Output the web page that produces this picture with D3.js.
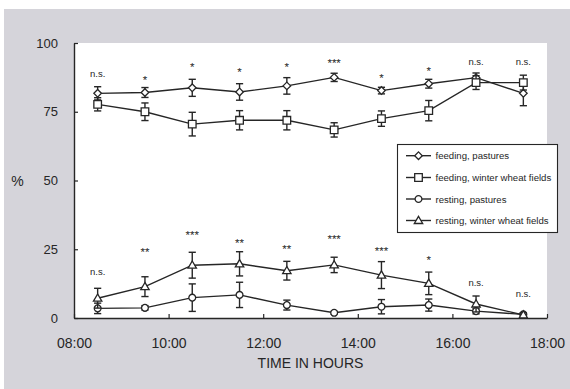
<!DOCTYPE html>
<html>
<head>
<meta charset="utf-8">
<script src="https://cdn.jsdelivr.net/npm/d3@7"></script>
<style>
  html, body { margin: 0; padding: 0; background: #ffffff; }
  svg { display: block; }
  text { font-family: "Liberation Sans", Arial, Helvetica, sans-serif; fill: #262626; }
</style>
</head>
<body>
<svg id="chart" width="570" height="389"></svg>
<script>
// Sampling times (hour of day, half-hour midpoints)
const times = [8.5, 9.5, 10.5, 11.5, 12.5, 13.5, 14.5, 15.5, 16.5, 17.5];

// Percentage of time spent per activity (mean and error)
const feedingPastures    = [81.7, 82.0, 83.7, 82.2, 84.4, 87.5, 82.7, 85.2, 87.4, 81.7];
const feedingPasturesErr = [2.4, 1.8, 3.1, 3.0, 3.0, 1.5, 1.2, 1.6, 1.7, 4.5];
const feedingWheat       = [77.7, 75.0, 70.5, 71.9, 71.9, 68.4, 72.5, 75.4, 85.6, 85.6];
const feedingWheatErr    = [2.4, 3.2, 4.3, 3.5, 3.5, 2.6, 2.8, 3.7, 2.5, 2.7];
const restingPastures    = [3.5, 3.7, 7.4, 8.4, 4.7, 1.9, 4.1, 4.7, 2.5, 1.3];
const restingPasturesErr = [1.9, 0.8, 5.0, 4.6, 1.8, 0.5, 2.6, 2.2, 1.0, 0.5];
const restingWheat       = [7.2, 11.4, 19.2, 19.7, 17.2, 19.3, 15.6, 12.6, 5.1, 1.1];
const restingWheatErr    = [3.6, 3.6, 4.7, 4.4, 3.4, 2.8, 4.9, 4.1, 2.9, 0.8];

// Significance of pasture vs. winter wheat differences, and the level (%) each label sits at
const sigFeeding   = ["n.s.", "*", "*", "*", "*", "***", "*", "*", "n.s.", "n.s."];
const sigFeedingAt = [88.4, 87.6, 92.4, 90.5, 92.4, 93.5, 88.4, 90.9, 92.7, 92.7];
const sigResting   = ["n.s.", "**", "***", "**", "**", "***", "***", "*", "n.s.", "n.s."];
const sigRestingAt = [16.4, 25.1, 31.2, 28.3, 25.9, 29.6, 25.3, 21.9, 12.6, 8.4];

// Axis ticks
const xTicks = [8, 10, 12, 14, 16, 18];
const xTickLabels = ["08:00", "10:00", "12:00", "14:00", "16:00", "18:00"];
const yTicks = [0, 25, 50, 75, 100];

const seriesNames = ["feeding, pastures", "feeding, winter wheat fields",
                     "resting, pastures", "resting, winter wheat fields"];
const seriesMarkers = ["diamond", "square", "circle", "triangle"];

const series = [
  { name: seriesNames[0], marker: seriesMarkers[0], values: feedingPastures, err: feedingPasturesErr },
  { name: seriesNames[1], marker: seriesMarkers[1], values: feedingWheat,    err: feedingWheatErr },
  { name: seriesNames[2], marker: seriesMarkers[2], values: restingPastures, err: restingPasturesErr },
  { name: seriesNames[3], marker: seriesMarkers[3], values: restingWheat,    err: restingWheatErr }
];

const ink = "#262626";
const svg = d3.select("#chart");

// page tone and white plotting field
svg.append("rect").attr("x", 4).attr("y", 9).attr("width", 566).attr("height", 380).attr("fill", "#d5d4da");

const x = d3.scaleLinear().domain([8, 18]).range([74, 547]);
const y = d3.scaleLinear().domain([0, 100]).range([318, 43]);

svg.append("rect")
  .attr("x", x(8)).attr("y", y(100))
  .attr("width", x(18) - x(8)).attr("height", y(0) - y(100))
  .attr("fill", "#ffffff");

// axes with inward ticks
const xAxis = d3.axisBottom(x).tickValues(xTicks)
  .tickFormat((d, i) => xTickLabels[i]).tickSizeInner(-4).tickSizeOuter(0).tickPadding(20);
const gx = svg.append("g").attr("transform", `translate(0,${y(0)})`).call(xAxis);
gx.select(".domain").attr("stroke", ink).attr("stroke-width", 1.4);
gx.selectAll(".tick line").attr("stroke", ink).attr("stroke-width", 1.2);
gx.selectAll(".tick text").attr("font-size", 14).attr("fill", ink)
  .attr("font-family", "Liberation Sans, Arial, sans-serif");

const yAxis = d3.axisLeft(y).tickValues(yTicks).tickSizeInner(-4).tickSizeOuter(0).tickPadding(16);
const gy = svg.append("g").attr("transform", `translate(${x(8)},0)`).call(yAxis);
gy.select(".domain").attr("stroke", ink).attr("stroke-width", 1.4);
gy.selectAll(".tick line").attr("stroke", ink).attr("stroke-width", 1.2);
gy.selectAll(".tick text").attr("font-size", 13).attr("fill", ink)
  .attr("font-family", "Liberation Sans, Arial, sans-serif");

// axis titles
svg.append("text").attr("x", 310.5).attr("y", 368).attr("text-anchor", "middle")
  .attr("font-size", 14).text("TIME IN HOURS");
svg.append("text").attr("x", 17.5).attr("y", y(50) + 5).attr("text-anchor", "middle")
  .attr("font-size", 14).text("%");

// marker shapes
function markerPath(kind) {
  switch (kind) {
    case "diamond":  return "M0,-3.8L3.8,0L0,3.8L-3.8,0Z";
    case "square":   return "M-3.8,-3.8H3.8V3.8H-3.8Z";
    case "circle":   return d3.symbol(d3.symbolCircle, Math.PI * 3.4 * 3.4)();
    case "triangle": return "M0,-4.2L4.2,3L-4.2,3Z";
  }
}

const line = d3.line().x(d => x(d.t)).y(d => y(d.v));
const capHalf = 3.6;

series.forEach(s => {
  const pts = times.map((t, i) => ({ t, v: s.values[i], e: s.err[i] }));
  const g = svg.append("g");

  g.append("path").datum(pts).attr("d", line)
    .attr("fill", "none").attr("stroke", ink).attr("stroke-width", 1.4);

  const eb = g.selectAll(".eb").data(pts).join("g");
  eb.append("line")
    .attr("x1", d => x(d.t)).attr("x2", d => x(d.t))
    .attr("y1", d => y(d.v + d.e)).attr("y2", d => y(Math.max(0, d.v - d.e)))
    .attr("stroke", ink).attr("stroke-width", 1.4);
  eb.append("line")
    .attr("x1", d => x(d.t) - capHalf).attr("x2", d => x(d.t) + capHalf)
    .attr("y1", d => y(d.v + d.e)).attr("y2", d => y(d.v + d.e))
    .attr("stroke", ink).attr("stroke-width", 1.4);
  eb.append("line")
    .attr("x1", d => x(d.t) - capHalf).attr("x2", d => x(d.t) + capHalf)
    .attr("y1", d => y(Math.max(0, d.v - d.e))).attr("y2", d => y(Math.max(0, d.v - d.e)))
    .attr("stroke", ink).attr("stroke-width", 1.4);

  g.selectAll(".mk").data(pts).join("path")
    .attr("d", markerPath(s.marker))
    .attr("transform", d => `translate(${x(d.t)},${y(d.v)})`)
    .attr("fill", "#ffffff").attr("stroke", ink).attr("stroke-width", 1.3);
});

// significance labels; the anchor value marks the visual centre of the glyphs
function drawSig(labels, levels) {
  svg.append("g").selectAll("text").data(labels).join("text")
    .attr("x", (d, i) => x(times[i]))
    .attr("y", (d, i) => y(levels[i]) + (d[0] === "*" ? 6.6 : 2.4))
    .attr("text-anchor", "middle")
    .attr("font-size", d => d[0] === "*" ? 11.5 : 9.5)
    .text(d => d);
}
drawSig(sigFeeding, sigFeedingAt);
drawSig(sigResting, sigRestingAt);

// legend
const lg = svg.append("g");
lg.append("rect").attr("x", 397.5).attr("y", 144.5).attr("width", 160).attr("height", 88)
  .attr("fill", "#ffffff").attr("stroke", ink).attr("stroke-width", 1.1);
const rowY = [155.7, 177.5, 199, 220.5];
series.forEach((s, i) => {
  const row = lg.append("g").attr("transform", `translate(0,${rowY[i]})`);
  row.append("line").attr("x1", 406).attr("x2", 431).attr("y1", 0).attr("y2", 0)
    .attr("stroke", ink).attr("stroke-width", 1.4);
  row.append("path").attr("d", markerPath(s.marker)).attr("transform", "translate(418.5,0)")
    .attr("fill", "#ffffff").attr("stroke", ink).attr("stroke-width", 1.3);
  row.append("text").attr("x", 435.5).attr("y", 3.5).attr("font-size", 9.6).text(s.name);
});
</script>
</body>
</html>
